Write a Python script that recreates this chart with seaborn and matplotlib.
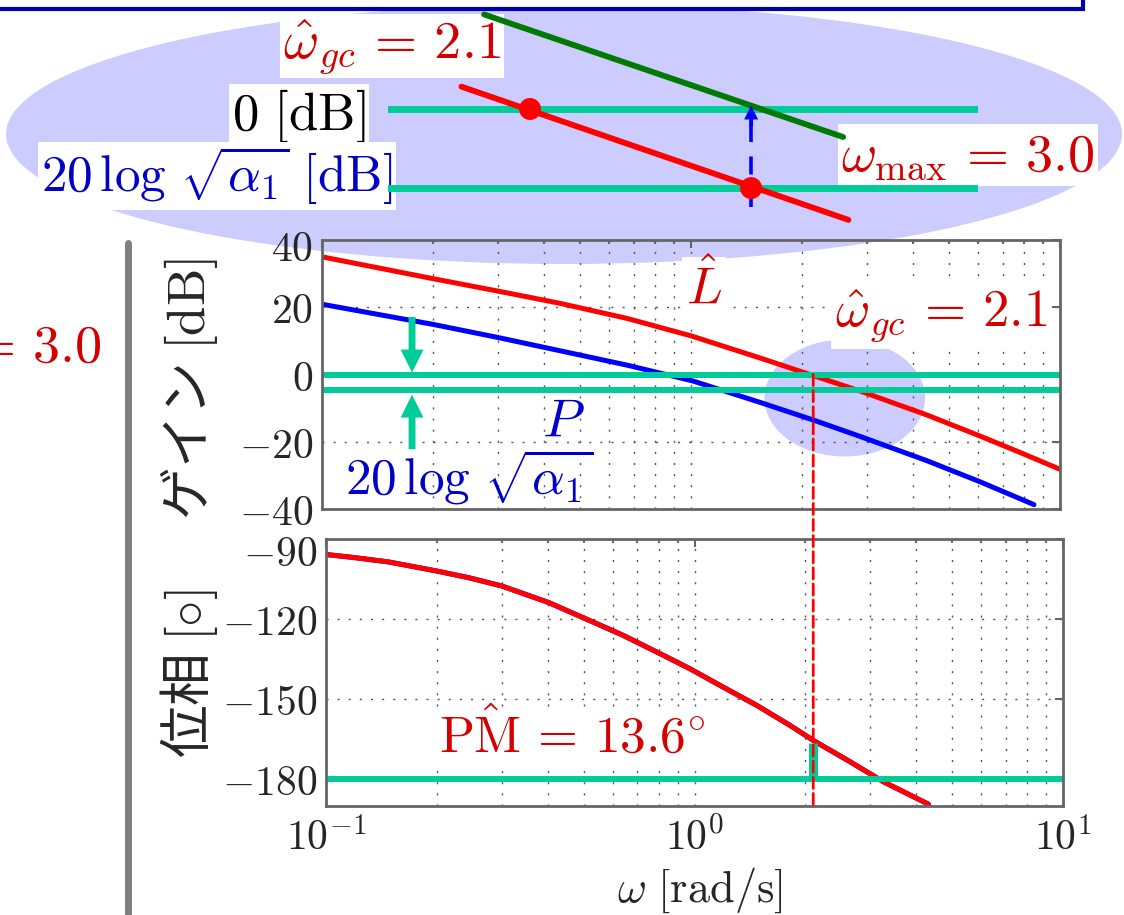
import numpy as np
import matplotlib
matplotlib.use("Agg")
import matplotlib.pyplot as plt
import seaborn as sns
from matplotlib.patches import Ellipse, Rectangle, ConnectionPatch
from matplotlib.lines import Line2D
from matplotlib.transforms import ScaledTranslation, blended_transform_factory
from matplotlib.ticker import FixedLocator, FixedFormatter, LogLocator, NullFormatter

# ---------------- data ----------------
omega_L = [0.1, 0.2, 0.3, 0.44, 0.67, 1.0, 1.54, 2.1, 2.87, 4.35, 6.07, 7.8, 10.0]
gain_L = [35.0, 28.5, 24.8, 21.2, 16.7, 11.5, 4.9, 0.0, -4.9, -12.0, -18.3, -23.2, -28.2]
omega_P = [0.1, 0.2, 0.3, 0.44, 0.67, 1.01, 1.54, 2.14, 2.87, 4.35, 6.07, 8.5]
gain_P = [20.9, 14.9, 11.0, 7.1, 2.8, -1.9, -8.3, -13.5, -18.4, -25.6, -31.9, -38.7]
omega_ph = [0.1, 0.12, 0.148, 0.2, 0.244, 0.3, 0.402, 0.505, 0.636, 0.8, 0.972, 1.197,
            1.475, 1.816, 2.11, 2.642, 3.253, 4.31]
phase_L = [-95.8, -97.0, -98.6, -102.0, -104.5, -107.6, -113.8, -119.8, -125.9, -132.7,
           -138.6, -145.5, -152.3, -159.8, -165.6, -173.4, -180.9, -189.3]

w_gc = 2.1          # hat omega_gc
w_max = 3.0         # omega_max
db_alpha = -4.6     # 20 log sqrt(alpha_1) [dB]
phase_at_gc = -166.4
pm_deg = 13.6

# zoomed schematic (top inset)
inset_omega_L = [1.88, 3.51]
inset_gain_L = [1.3, -6.45]
inset_omega_G = [1.95, 3.48]
inset_gain_G = [5.5, -1.63]

gain_ticks = [-40, -20, 0, 20, 40]
gain_tick_labels = ["$-40$", "$-20$", "$0$", "$20$", "$40$"]
phase_ticks = [-180, -150, -120, -90]
phase_tick_labels = ["$-180$", "$-150$", "$-120$", "$-90$"]
freq_ticks = [0.1, 1.0, 10.0]
freq_tick_labels = ["$10^{-1}$", "$10^{0}$", "$10^{1}$"]

# ---------------- style ----------------
sns.set_style("white")
plt.rcParams["font.family"] = ["Noto Sans CJK JP", "DejaVu Sans"]
plt.rcParams["mathtext.fontset"] = "cm"

RED = "#ff0000"
RED_T = "#d40000"
BLUE = "#0000ff"
BLUE_T = "#0000c8"
TEAL = "#00cc99"
GREEN = "#007a00"
LAV = "#ccccff"
SPINE = "#666666"
GRIDC = "#555555"

W, H = 1124, 915
fig = plt.figure(figsize=(W / 100, H / 100), dpi=100)
fig.patch.set_facecolor("white")


def fx(px):
    return px / W


def fy(py):
    return 1 - py / H


ax_g = fig.add_axes([fx(322), fy(509), (1060 - 322) / W, (509 - 240) / H])
ax_p = fig.add_axes([fx(326), fy(806), (1063 - 326) / W, (806 - 539) / H])
ax_t = fig.add_axes([fx(388), fy(235), (978 - 388) / W, 235 / H])

# background decorations
fig.add_artist(Ellipse((fx(564), fy(134)), 1116 / W, 260 / H, transform=fig.transFigure,
                       facecolor=LAV, edgecolor="none", zorder=-2))
fig.add_artist(Rectangle((fx(-10), fy(9)), 1093 / W, 0.2, transform=fig.transFigure,
                         facecolor="white", edgecolor="#0000aa", lw=3, zorder=-1))
fig.add_artist(Line2D([fx(128), fx(128)], [fy(243), fy(940)], transform=fig.transFigure,
                      color="#808080", lw=5, zorder=-1))

grid_ls = (0, (1.5, 6.5))


def style_axes(ax):
    ax.set_facecolor("none")
    ax.set_xscale("log")
    ax.set_xlim(0.1, 10)
    ax.set_axisbelow(True)
    for s in ax.spines.values():
        s.set_color(SPINE)
        s.set_linewidth(2)
        s.set_zorder(4)
    ax.xaxis.set_major_locator(FixedLocator(freq_ticks))
    ax.xaxis.set_major_formatter(FixedFormatter(freq_tick_labels))
    ax.xaxis.set_minor_locator(LogLocator(base=10, subs=np.arange(2, 10)))
    ax.xaxis.set_minor_formatter(NullFormatter())
    ax.tick_params(which="both", direction="in", top=True, right=True, color=SPINE)
    ax.tick_params(which="major", length=6, width=1.5, labelsize=30, pad=6.5)
    ax.tick_params(which="minor", length=3, width=1.5)
    ax.tick_params(axis="x", which="major", pad=9)
    ax.grid(True, which="major", color=GRIDC, lw=1.0, ls=grid_ls)
    ax.grid(True, which="minor", axis="x", color=GRIDC, lw=1.0, ls=grid_ls)


# ---------------- gain ----------------
style_axes(ax_g)
ax_g.set_ylim(-40, 40)
ax_g.yaxis.set_major_locator(FixedLocator(gain_ticks))
ax_g.yaxis.set_major_formatter(FixedFormatter(gain_tick_labels))
ax_g.tick_params(labelbottom=False)

ax_g.add_patch(Ellipse(((844.7 - 322) / 738, (509 - 398) / 269), 160.7 / 738, 117 / 269,
                       transform=ax_g.transAxes, facecolor=LAV, edgecolor="none", zorder=0.2))
sns.lineplot(x=omega_L, y=gain_L, ax=ax_g, color=RED, lw=3.6, zorder=2)
sns.lineplot(x=omega_P, y=gain_P, ax=ax_g, color=BLUE, lw=3.6, zorder=2)
ax_g.axhline(0, color=TEAL, lw=4.3, zorder=2.5)
ax_g.axhline(db_alpha, color=TEAL, lw=4.3, zorder=2.5)

arr_teal = dict(arrowstyle="simple,head_length=1,head_width=1,tail_width=0.3",
                mutation_scale=16.5, fc=TEAL, ec="none", shrinkA=0, shrinkB=0)
ax_g.annotate("", xy=(0.1754, 0.6), xytext=(0.1754, 17.1), arrowprops=arr_teal, zorder=3)
ax_g.annotate("", xy=(0.1754, -6.0), xytext=(0.1754, -22.2), arrowprops=arr_teal, zorder=3)

wbox = dict(boxstyle="square,pad=0.08", fc="white", ec="none")
ax_g.text(1.084, 25.4, r"$\hat{L}$", color=RED_T, fontsize=38, ha="center", va="center", bbox=wbox)
ax_g.text(4.77, 17.4, r"$\hat{\omega}_{gc}\,=\,2.1$", color=RED_T, fontsize=38, ha="center",
          va="center", bbox=wbox)
ax_g.text(0.45, -13.8, r"$P$", color=BLUE_T, fontsize=39, ha="center", va="center")
ax_g.text(0.251, -30.6, r"$20\,\log\,\sqrt{\alpha_1}$", color=BLUE_T, fontsize=37, ha="center",
          va="center")

ax_g.set_ylabel(r"ゲイン $[\mathrm{dB}]$", fontsize=38)
ax_g.yaxis.set_label_coords((189 - 322) / 738, (509 - 389) / 269)
ax_g.yaxis.label.set(ha="center", va="center", rotation_mode="default")

# ---------------- phase ----------------
style_axes(ax_p)
ax_p.set_ylim(-190, -90)
ax_p.yaxis.set_major_locator(FixedLocator(phase_ticks))
ax_p.yaxis.set_major_formatter(FixedFormatter(phase_tick_labels))

sns.lineplot(x=omega_ph, y=phase_L, ax=ax_p, color=BLUE, lw=3.6, zorder=2)
sns.lineplot(x=omega_ph, y=phase_L, ax=ax_p, color=RED, lw=3.6, zorder=2.1)
ax_p.axhline(-180, color=TEAL, lw=4.3, zorder=2.5)
ax_p.plot([w_gc, w_gc], [-180, phase_at_gc], color=TEAL, lw=6.5, solid_capstyle="butt", zorder=2.6)
ax_p.text(0.465, -164.6, r"$\hat{\mathrm{PM}}\,=\,13.6^{\circ}$", color=RED_T, fontsize=37,
          ha="center", va="center", bbox=wbox)

ax_p.set_ylabel(r"位相 $[\circ]$", fontsize=38)
ax_p.yaxis.set_label_coords((189 - 326) / 737, (806 - 674) / 267)
ax_p.yaxis.label.set(ha="center", va="center", rotation_mode="default")
ax_p.set_xlabel(r"$\omega\ [\mathrm{rad/s}]$", fontsize=32)
ax_p.xaxis.set_label_coords((700 - 326) / 737, (806 - 890) / 267)
ax_p.xaxis.label.set(va="center")

# dashed vertical marker at the gain crossover, running from 0 dB down through the phase panel
link_top = blended_transform_factory(ax_p.transData, ax_g.transData)
fig.add_artist(ConnectionPatch(xyA=(w_gc, 0), coordsA=link_top,
                               xyB=(w_gc, -190), coordsB=ax_p.transData,
                               color=RED, lw=2, ls=(0, (4, 1.8)), zorder=3))

# ---------------- top zoomed schematic ----------------
ax_t.set_axis_off()
ax_t.set_facecolor("none")
ax_t.set_xscale("log")
ax_t.set_xlim(1.670, 4.326)
ax_t.set_ylim(-7.33, 6.34)
ax_t.axhline(0, color=TEAL, lw=5, zorder=1)
ax_t.axhline(db_alpha, color=TEAL, lw=5, zorder=1)
sns.lineplot(x=inset_omega_G, y=inset_gain_G, ax=ax_t, color=GREEN, lw=4.2, zorder=2)
sns.lineplot(x=inset_omega_L, y=inset_gain_L, ax=ax_t, color=RED, lw=4.2, zorder=2)
ax_t.plot([w_max, w_max], [-5.7, -0.8], color=BLUE, lw=2.6, ls=(0, (5, 4)), zorder=3)
ax_t.annotate("", xy=(w_max, 0.2), xytext=(w_max, -1.0),
              arrowprops=dict(arrowstyle="simple,head_length=1,head_width=1,tail_width=0.28",
                              mutation_scale=10, fc=BLUE, ec="none", shrinkA=0, shrinkB=0),
              zorder=3)
sns.scatterplot(x=[w_gc, w_max], y=[0, db_alpha], ax=ax_t, color=RED, s=250,
                edgecolor="none", zorder=4)

tbox = dict(boxstyle="square,pad=0.06", fc="white", ec="none")
fig.text(fx(392), fy(46), r"$\hat{\omega}_{gc}\,=\,2.1$", color=RED_T, fontsize=39,
         ha="center", va="center", bbox=tbox, zorder=-0.5)
fig.text(fx(299), fy(116), r"$0\ [\mathrm{dB}]$", color="black", fontsize=38,
         ha="center", va="center", bbox=tbox, zorder=-0.5)
fig.text(fx(217), fy(176), r"$20\,\log\,\sqrt{\alpha_1}\ [\mathrm{dB}]$", color=BLUE_T,
         fontsize=37, ha="center", va="center", bbox=tbox, zorder=-0.5)
fig.text(fx(968), fy(155), r"$\omega_{\max}\,=\,3.0$", color=RED_T, fontsize=39,
         ha="center", va="center", bbox=tbox, zorder=-0.5)
fig.text(fx(102), fy(346), r"$\omega_{\max}\,=\,3.0$", color=RED_T, fontsize=39,
         ha="right", va="center")

# MATLAB-like nudging of the top tick labels
for ax, dy in ((ax_g, -5), (ax_p, -11)):
    lab = ax.yaxis.get_major_ticks()[-1].label1
    lab.set_transform(lab.get_transform() + ScaledTranslation(0, dy / 100, fig.dpi_scale_trans))

fig.savefig("out.png", dpi=100, facecolor="white")
